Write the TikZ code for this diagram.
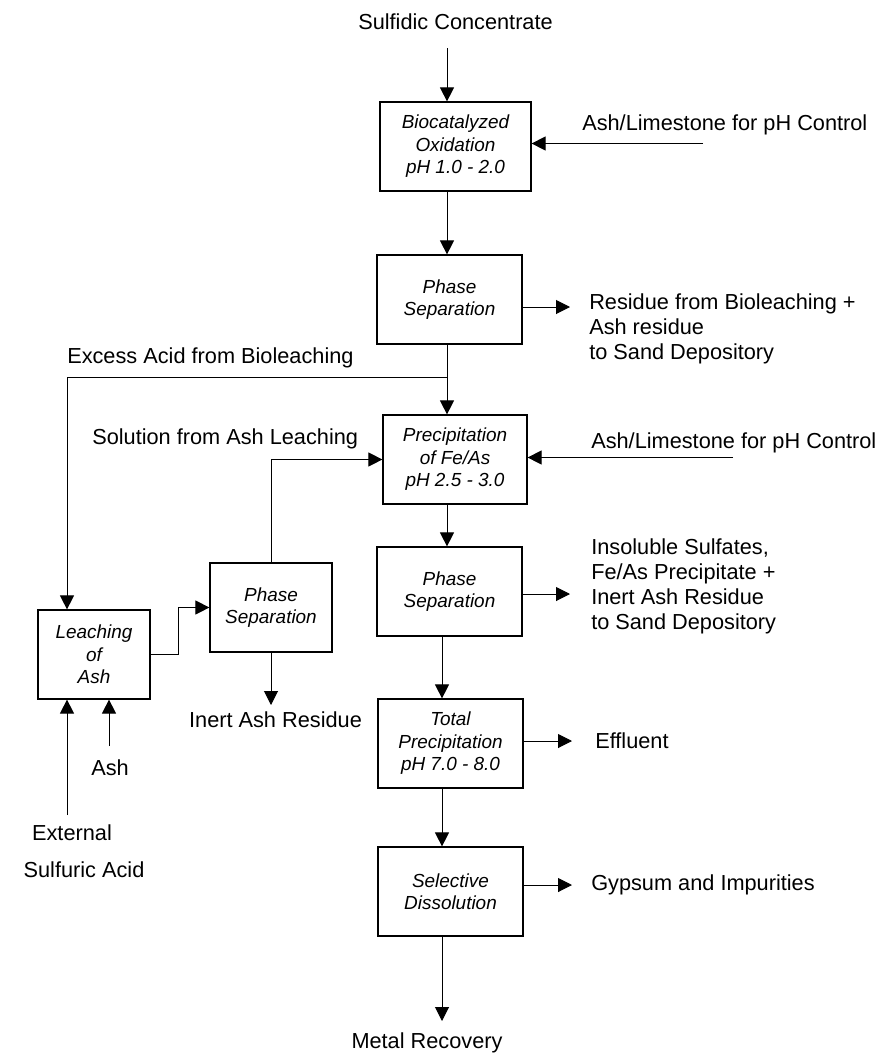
\documentclass[tikz,border=0pt]{standalone}
\usepackage{fontspec}
\setmainfont{Liberation Sans}
\usetikzlibrary{arrows.meta}
\begin{document}
\begin{tikzpicture}[x=0.75pt,y=-0.75pt,
 box/.style={draw, line width=0.9pt, rectangle, inner sep=0pt, minimum height=66.75pt, align=center, font=\fontsize{14.2}{16.9}\selectfont\itshape},
 lbl/.style={inner sep=0pt, font=\fontsize{16.3}{18.75}\selectfont},
 arr/.style={line width=0.75pt, -{Triangle[length=10.5pt,width=10.5pt]}},
 ln/.style={line width=0.75pt}]
\useasboundingbox (0,0) rectangle (881,1053);

% process boxes
\node[box, minimum width=113.25pt] (b1) at (455.5,146.5) {Biocatalyzed\\Oxidation\\pH 1.0 - 2.0};
\node[box, minimum width=108.75pt] (b2) at (449.5,299.5) {Phase\\Separation};
\node[box, minimum width=108pt]    (b3) at (455,459.5) {Precipitation\\of Fe/As\\pH 2.5 - 3.0};
\node[box, minimum width=108.75pt] (b4) at (449.5,591.5) {Phase\\Separation};
\node[box, minimum width=108.75pt] (b5) at (450.5,743.5) {Total\\Precipitation\\pH 7.0 - 8.0};
\node[box, minimum width=108.75pt] (b6) at (450.5,891.5) {Selective\\Dissolution};
\node[box, minimum width=84pt]     (le) at (94,654.5) {Leaching\\of\\Ash};
\node[box, minimum width=91.5pt]   (pl) at (271,607.5) {Phase\\Separation};

% labels
\node[lbl] (sc) at (455.5,22) {Sulfidic Concentrate};
\node[lbl, anchor=west] (al1) at (582,125) {Ash/Limestone for pH Control};
\node[lbl, anchor=west, align=left] (res1) at (589,329) {Residue from Bioleaching +\\Ash residue\\to Sand Depository};
\node[lbl, anchor=west] (exa) at (67,358) {Excess Acid from Bioleaching};
\node[lbl, anchor=west] (sol) at (92,439) {Solution from Ash Leaching};
\node[lbl, anchor=west] (al2) at (591,443) {Ash/Limestone for pH Control};
\node[lbl, anchor=west, align=left] (res2) at (591,586) {Insoluble Sulfates,\\Fe/As Precipitate +\\Inert Ash Residue\\to Sand Depository};
\node[lbl] (iar) at (275.5,720) {Inert Ash Residue};
\node[lbl, anchor=west] (eff) at (595,741) {Effluent};
\node[lbl] (ash) at (110,768) {Ash};
\node[lbl] (ext) at (72,833) {External};
\node[lbl] (sfa) at (84,870) {Sulfuric Acid};
\node[lbl, anchor=west] (gyp) at (591,885) {Gypsum and Impurities};
\node[lbl] (mr) at (427,1043) {Metal Recovery};

% helper coordinates
\coordinate (xa) at (447,0);
\coordinate (xb) at (442,0);
\coordinate (scs) at (447,48);
\coordinate (al1s) at (703,143.5);
\coordinate (r1e) at (570,307);
\coordinate (j) at (447,377);
\coordinate (xl) at (67,0);
\coordinate (al2s) at (733,457.5);
\coordinate (r2e) at (570,594);
\coordinate (effe) at (572,741);
\coordinate (gype) at (572,885);
\coordinate (mre) at (442,1021);
\coordinate (iare) at (271,705);
\coordinate (exs) at (67,815);
\coordinate (ashs) at (109,746);

% connectors
\draw[arr] (scs) -- (b1.north -| xa);
\draw[arr] (al1s) -- (al1s -| b1.east);
\draw[arr] (b1.south -| xa) -- (b2.north -| xa);
\draw[arr] (r1e -| b2.east) -- (r1e);
\draw[arr] (b2.south -| xa) -- (b3.north -| xa);
\draw[arr] (j) -| (le.north -| xl);
\draw[arr] (al2s) -- (al2s -| b3.east);
\draw[arr] (pl.north) |- (b3.west);
\draw[arr] (b3.south -| xa) -- (b4.north -| xa);
\draw[arr] (r2e -| b4.east) -- (r2e);
\draw[arr] (b4.south -| xb) -- (b5.north -| xb);
\draw[arr] (effe -| b5.east) -- (effe);
\draw[arr] (b5.south -| xb) -- (b6.north -| xb);
\draw[arr] (gype -| b6.east) -- (gype);
\draw[arr] (b6.south -| xb) -- (mre);
\draw[arr] (le.east) -- ++(28,0) |- (pl.west);
\draw[arr] (pl.south) -- (iare);
\draw[arr] (exs) -- (le.south -| exs);
\draw[arr] (ashs) -- (le.south -| ashs);
\end{tikzpicture}
\end{document}
